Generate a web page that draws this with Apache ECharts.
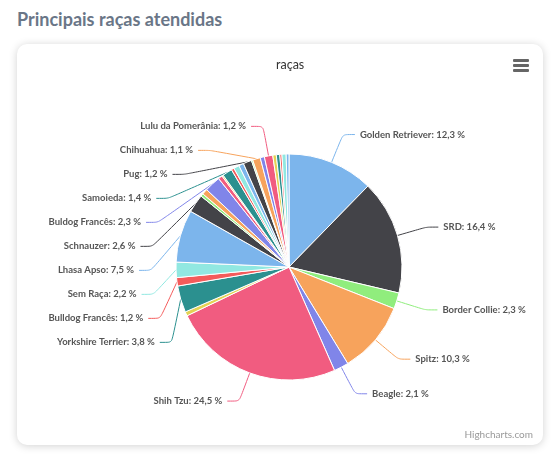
<!DOCTYPE html>
<html>
<head>
<meta charset="utf-8">
<script src="https://cdn.jsdelivr.net/npm/echarts@6/dist/echarts.min.js"></script>
<style>
  html, body { margin: 0; padding: 0; background: #ffffff; }
  #heading { position: absolute; left: 17px; top: 8px; font-family: Lato, "Open Sans", sans-serif; font-weight: 700; font-size: 18px; color: #6a7687; }
  #card { position: absolute; left: 17px; top: 44px; width: 526px; height: 401px; border-radius: 10px; background: #fff; box-shadow: 0 1px 8px rgba(0,0,0,0.18); overflow: hidden; }
  #main { width: 526px; height: 401px; }
</style>
</head>
<body>
<div id="heading">Principais raças atendidas</div>
<div id="card"><div id="main"></div></div>
<script>
// Slices clockwise from the top (Highcharts order); unlabeled slices are the small ones without visible labels
const breedNames = [
  'Golden Retriever', 'SRD', 'Border Collie', 'Spitz', 'Beagle', 'Shih Tzu', 'Outra raça 1',
  'Yorkshire Terrier', 'Bulldog Francês', 'Sem Raça', 'Lhasa Apso', 'Schnauzer', 'Outra raça 2',
  'Outra raça 3', 'Buldog Francês', 'Outra raça 4', 'Outra raça 5', 'Samoieda', 'Outra raça 6',
  'Outra raça 7', 'Outra raça 8', 'Pug', 'Outra raça 9', 'Chihuahua', 'Outra raça 10',
  'Lulu da Pomerânia', 'Outra raça 11', 'Outra raça 12', 'Outra raça 13', 'Outra raça 14', 'Outra raça 15'
];
const breedPercent = [
  12.3, 16.4, 2.3, 10.3, 2.1, 24.5, 0.6,
  3.8, 1.2, 2.2, 7.5, 2.6, 0.4,
  0.8, 2.3, 0.6, 0.2, 1.4, 0.4,
  0.8, 0.7, 1.2, 0.2, 1.1, 0.6,
  1.2, 0.5, 0.5, 0.3, 0.6, 0.4
];
const labelShown = [
  1, 1, 1, 1, 1, 1, 0,
  1, 1, 1, 1, 1, 0,
  0, 1, 0, 0, 1, 0,
  0, 0, 1, 0, 1, 0,
  1, 0, 0, 0, 0, 0
];
const palette = ['#7cb5ec', '#434348', '#90ed7d', '#f7a35c', '#8085e9', '#f15c80', '#e4d354', '#2b908f', '#f45b5b', '#91e8e1'];

const pieData = breedNames.map((n, i) => ({
  name: n,
  value: breedPercent[i],
  label: { show: !!labelShown[i] },
  labelLine: { show: !!labelShown[i] }
}));

const chart = echarts.init(document.getElementById('main'));
chart.setOption({
  animation: false,
  color: palette,
  title: {
    text: 'raças',
    left: 254,
    top: 9,
    textStyle: { fontFamily: 'Lato, sans-serif', fontSize: 12.5, fontWeight: 'normal', color: '#333333' }
  },
  graphic: [
    { type: 'rect', right: 14, top: 15, shape: { width: 16, height: 3, r: 1 }, style: { fill: '#666666' } },
    { type: 'rect', right: 14, top: 20, shape: { width: 16, height: 3, r: 1 }, style: { fill: '#666666' } },
    { type: 'rect', right: 14, top: 25, shape: { width: 16, height: 3, r: 1 }, style: { fill: '#666666' } },
    { type: 'text', right: 10, bottom: 5, style: { text: 'Highcharts.com', fontFamily: 'Lato, sans-serif', fontSize: 10, fill: '#999999' } }
  ],
  series: [{
    type: 'pie',
    center: [272, 223],
    radius: 113,
    startAngle: 90,
    clockwise: true,
    avoidLabelOverlap: true,
    itemStyle: { borderColor: '#ffffff', borderWidth: 1 },
    label: {
      formatter: p => p.name + ': ' + p.value.toFixed(1).replace('.', ',') + ' %',
      fontFamily: 'Lato, sans-serif',
      fontWeight: 'bold',
      fontSize: 9.5,
      color: '#555555',
      lineHeight: 22
    },
    labelLine: { length: 30, length2: 12, smooth: 0.2, lineStyle: { width: 1 } },
    emphasis: { disabled: true },
    data: pieData
  }]
});
</script>
</body>
</html>
